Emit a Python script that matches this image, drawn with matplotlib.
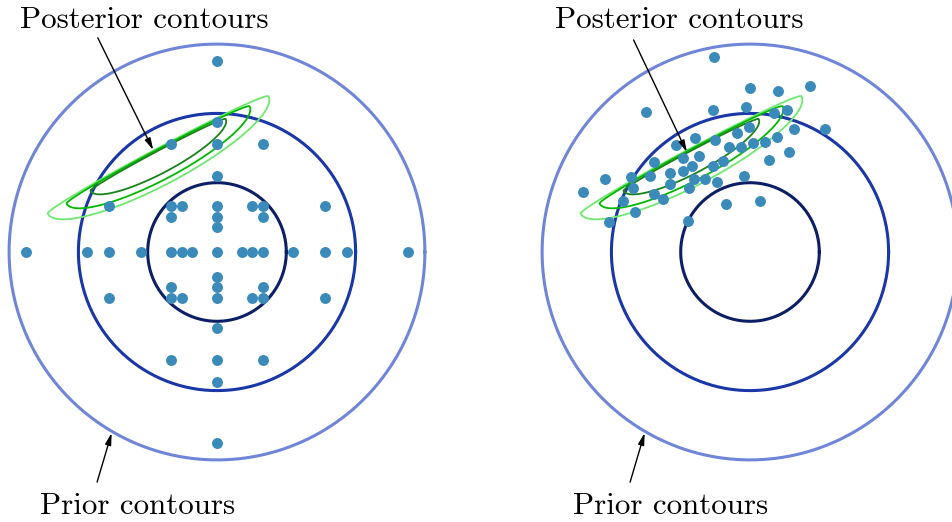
import numpy as np
import matplotlib
matplotlib.use("Agg")
import matplotlib.pyplot as plt

plt.rcParams['font.family'] = ['cmr10', 'DejaVu Serif']
plt.rcParams['axes.unicode_minus'] = False

# prior contour radii (in prior standard deviations)
prior_radii = [3, 2, 1]
prior_colors = ['#6f86d8', '#1a37a8', '#0c1f66']

# left: deterministic (sparse-grid) nodes
grid_x = [0, 0, -0.66, 0, 0.66, 0,
          -1.56, -0.66, -0.5, 0, 0.5, 0.66, 1.56,
          -0.66, 0, 0.66, 0,
          -2.76, -1.87, -1.56, -1.09, -0.66, -0.5, -0.36, 0, 0.36, 0.5, 0.66, 1.09, 1.56, 1.87, 2.76,
          0, -0.66, 0, 0.66,
          -1.56, -0.66, -0.5, 0, 0.5, 0.66, 1.56,
          0, -0.66, 0, 0.66, 0, 0]
grid_y = [2.76, 1.87, 1.56, 1.56, 1.56, 1.09,
          0.66, 0.66, 0.66, 0.66, 0.66, 0.66, 0.66,
          0.5, 0.5, 0.5, 0.36,
          0, 0, 0, 0, 0, 0, 0, 0, 0, 0, 0, 0, 0, 0, 0,
          -0.36, -0.5, -0.5, -0.5,
          -0.66, -0.66, -0.66, -0.66, -0.66, -0.66, -0.66,
          -1.09, -1.56, -1.56, -1.56, -1.87, -2.76]

# right: samples
samp_x = [-0.52, 0.0, 0.41, 0.87, -1.50, -0.54, -0.06, 0.34, 0.53, -0.01,
          -0.19, 0.64, 1.08, -0.80, -0.50, -1.07, -0.31, -0.13, 0.04, 0.22,
          0.39, 0.56, -0.96, -0.73, -0.39, 0.27, -1.38, -0.83, -0.54, -0.96,
          -1.16, -2.09, -1.71, -1.44, -0.81, -0.65, -0.08, -0.47, -1.69, -1.15,
          -0.88, -2.41, -1.39, -1.25, -1.83, -1.66, -0.35, 0.14, -2.04, -0.90]
samp_y = [2.82, 2.37, 2.33, 2.39, 2.02, 2.05, 2.09, 2.01, 2.05, 1.80,
          1.71, 1.77, 1.77, 1.65, 1.62, 1.54, 1.51, 1.51, 1.58, 1.59,
          1.66, 1.45, 1.36, 1.38, 1.32, 1.33, 1.30, 1.24, 1.24, 1.17,
          1.14, 1.05, 1.08, 1.09, 1.06, 1.05, 1.09, 1.01, 0.92, 0.98,
          0.92, 0.86, 0.83, 0.76, 0.73, 0.58, 0.69, 0.74, 0.44, 0.45]

# posterior: skewed (split-normal) density, rotated
post_center = (-0.85, 1.40)
post_angle = 28.0
post_s_major = 0.713
post_s_lower = 0.17
post_s_upper = 0.035
post_levels = [3.2, 2.2, 1.2]
post_colors = ['#6ee86e', '#00b800', '#17821a']

U = 69.3  # pixels per unit
W, H = 953, 522
centers_px = [(217, 252), (750, 252)]


def posterior(x, y):
    t = np.deg2rad(post_angle)
    dx, dy = x - post_center[0], y - post_center[1]
    u = dx * np.cos(t) + dy * np.sin(t)
    v = -dx * np.sin(t) + dy * np.cos(t)
    sv = np.where(v > 0, post_s_upper, post_s_lower)
    return np.exp(-(u ** 2 / (2 * post_s_major ** 2) + v ** 2 / (2 * sv ** 2)))


fig = plt.figure(figsize=(W / 100, H / 100), dpi=100)

gx, gy = np.meshgrid(np.arange(-3.2, 1.6, 0.004), np.arange(0.2, 2.7, 0.004))
dens = posterior(gx, gy)

for i, (cx, cy) in enumerate(centers_px):
    ax = fig.add_axes([i * 0.5, 0, 0.5, 1])
    x0 = i * W / 2
    ax.set_xlim((x0 - cx) / U, (x0 + W / 2 - cx) / U)
    ax.set_ylim(-(H - cy) / U, cy / U)
    ax.axis('off')

    th = np.linspace(0, 2 * np.pi, 400)
    for r, c in zip(prior_radii, prior_colors):
        ax.plot(r * np.cos(th), r * np.sin(th), color=c, lw=2.2, zorder=1,
                clip_on=False)

    ax.contour(gx, gy, dens, levels=np.exp(-np.array(post_levels)),
               colors=post_colors, linewidths=1.3, zorder=2)

    if i == 0:
        ax.scatter(grid_x, grid_y, s=62, color='#3b8bba', zorder=3, lw=0)
    else:
        ax.scatter(samp_x, samp_y, s=62, color='#3b8bba', zorder=3, lw=0)

    arrow = dict(arrowstyle='-|>,head_length=0.7,head_width=0.18',
                 color='black', lw=1.0, shrinkA=0, shrinkB=0)
    ax.text(-2.84 if i == 0 else -2.81, 3.23, 'Posterior contours',
            fontsize=22.3, ha='left', va='baseline')
    ax.annotate('', xy=(-0.92, 1.47) if i == 0 else (-0.91, 1.44),
                xytext=(-1.72, 3.09) if i == 0 else (-1.68, 3.06),
                arrowprops=arrow, annotation_clip=False)
    ax.text(-2.55, -3.78, 'Prior contours', fontsize=22.3,
            ha='left', va='baseline')
    ax.annotate('', xy=(-1.52, -2.61), xytext=(-1.73, -3.32),
                arrowprops=arrow, annotation_clip=False)

fig.savefig('out.png', dpi=100)
